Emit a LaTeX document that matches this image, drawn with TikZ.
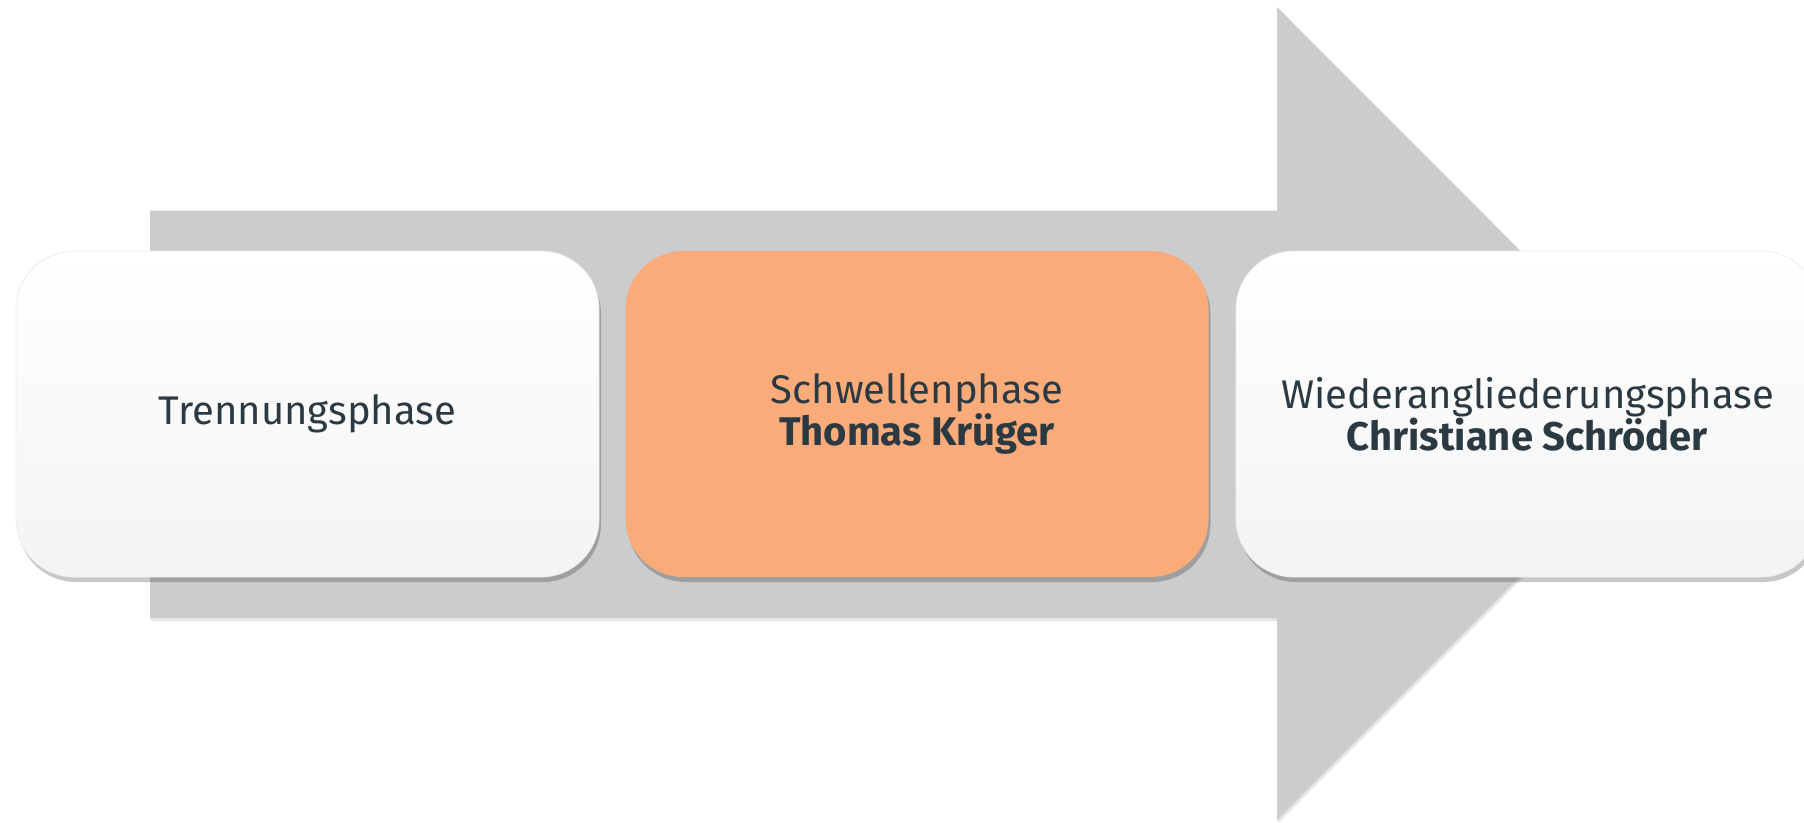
\documentclass[tikz,border=0pt]{standalone}
\usepackage{fontspec}
\setmainfont{Fira Sans}
\usetikzlibrary{shadows}
\definecolor{arrowgray}{HTML}{CBCCCE}
\definecolor{phaseorange}{HTML}{FAAB7A}
\definecolor{phasetext}{HTML}{2B3A42}
\tikzset{
  phasebox/.style = {rounded corners=58pt, minimum width=583pt, minimum height=326pt,
    align=center, text=phasetext, font=\fontsize{40}{42}\selectfont,
    drop shadow={shadow xshift=2pt, shadow yshift=-5pt, opacity=.22, fill=black}},
  whitebox/.style = {phasebox, draw=black!7, line width=.8pt, top color=white, bottom color=gray!9},
}
\begin{document}
\begin{tikzpicture}[x=1pt,y=-1pt]
    \useasboundingbox (0,0) rectangle (1804,822);
    \fill [arrowgray, drop shadow={shadow xshift=1pt, shadow yshift=-3pt, opacity=.2}]
      (150,210.5)--(1277,210.5)--(1277,7)--(1683,413.5)--(1277,820)--(1277,618)--(150,618)--cycle;
    \node [whitebox] (trennung) at (307.5,414) {Trennungsphase};
    \node [phasebox, fill=phaseorange] (schwelle) at (917,414) {Schwellenphase\\\textbf{Thomas Krüger}};
    \node [whitebox] (wieder) at (1527.5,414) {Wiederangliederungsphase\\\textbf{Christiane Schröder}};
  \end{tikzpicture}
\end{document}
